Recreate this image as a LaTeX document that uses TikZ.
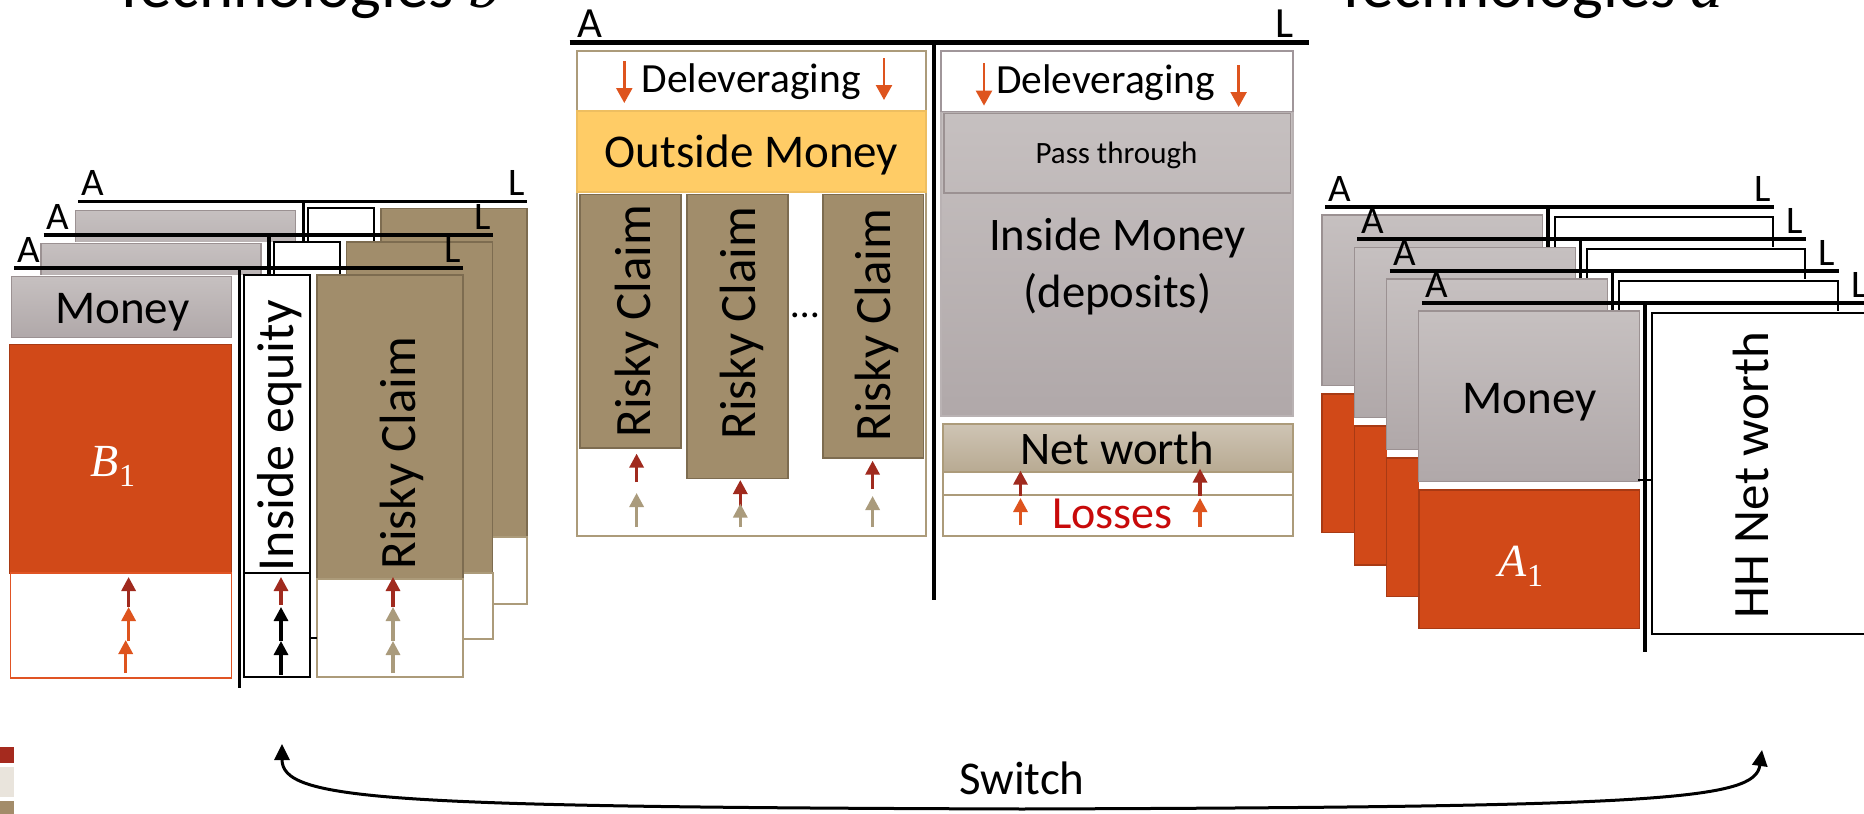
\documentclass[tikz,border=0pt]{standalone}
\usepackage{fontspec}
\setmainfont{Carlito}
\newfontfamily\serifmath{Liberation Serif}
\usetikzlibrary{arrows.meta}

\definecolor{moneytop}{RGB}{198,192,192}
\definecolor{moneybot}{RGB}{176,168,169}
\definecolor{moneyedge}{RGB}{155,145,146}
\definecolor{orangefill}{RGB}{209,73,24}
\definecolor{orangeedge}{RGB}{168,58,20}
\definecolor{orangeline}{RGB}{224,84,36}
\definecolor{brownfill}{RGB}{161,141,107}
\definecolor{brownedge}{RGB}{125,108,80}
\definecolor{tanedge}{RGB}{172,155,122}
\definecolor{arrred}{RGB}{160,42,30}
\definecolor{arrorange}{RGB}{222,84,30}
\definecolor{arrtan}{RGB}{170,155,124}
\definecolor{goldfill}{RGB}{255,204,102}
\definecolor{goldedge}{RGB}{238,190,96}
\definecolor{nettop}{RGB}{206,196,180}
\definecolor{netbot}{RGB}{184,170,146}
\definecolor{lossred}{RGB}{200,10,10}
\definecolor{swbeige}{RGB}{233,228,220}
\definecolor{swtan}{RGB}{163,140,106}
\definecolor{swred}{RGB}{165,42,30}
\definecolor{colgray}{RGB}{160,150,154}

\newcommand\fsz[1]{\fontsize{#1}{#1}\selectfont}
% italic letter with a lowered upright index, in a serif face
\newcommand\symb[2]{{\serifmath\itshape #1}\raisebox{-0.22em}{\fontsize{32}{32}\selectfont\serifmath #2}}

\tikzset{
  bar/.style={line width=3.6pt},
  bigbar/.style={line width=5pt},
  divider/.style={line width=3.6pt},
  lbl/.style={font={\fsz{39}}, inner sep=0pt},
  body/.style={inner sep=0pt},
  moneybox/.style={draw=moneyedge, line width=1.2pt, top color=moneytop, bottom color=moneybot},
  orangebox/.style={draw=orangeedge, line width=1.5pt, fill=orangefill},
  brownbox/.style={draw=brownedge, line width=1.6pt, fill=brownfill},
  plainbox/.style={draw=black, line width=2pt, fill=white},
  tanbox/.style={draw=tanedge, line width=2pt},
  uparrow/.style={line width=3.2pt, -{Triangle[width=14pt,length=14pt]}},
  downarrow/.style={draw=arrorange, line width=2.4pt, -{Triangle[width=16pt,length=15pt]}},
}

% one balance sheet of a bank (left stack); #1 name, #2 shift, #3 claim bottom, #4 sheet bottom
\newcommand\banksheet[4]{%
  \begin{scope}[shift={#2}]
    \fill[white] (9.6,275) rectangle (463,#4+1);
    \draw[bar] (14,268) -- (463,268);
    \node[lbl,anchor=base west] (#1A) at (17,262.5) {A};
    \node[lbl,anchor=base east] (#1L) at (461,262.5) {L};
    \path[moneybox] (11.4,276.8) rectangle (231.4,337.5);
    \path[orangebox] (9.6,344.6) rectangle (231.4,573);
    \draw[orangeline,line width=1.5pt] (10.7,573) rectangle (231.4,#4+1);
    \draw[plainbox] (244,275) rectangle (310,573);
    \draw[plainbox] (244,573) rectangle (310,#4);
    \path[brownbox] (317,275) rectangle (463,#3);
    \draw[tanbox] (317,#3) rectangle (463,#4);
    \draw[divider] (239.3,268) -- (239.3,#4+10.5);
  \end{scope}}

% one household balance sheet (right stack); #1 name, #2 shift
\newcommand\hhsheet[2]{%
  \begin{scope}[shift={#2}]
    \fill[white] (1322,215) rectangle (1773,538);
    \draw[bar] (1325,206.7) -- (1774,206.7);
    \node[lbl,anchor=base west] (#1A) at (1328.5,201.7) {A};
    \node[lbl,anchor=base east] (#1L) at (1771,201.7) {L};
    \path[moneybox] (1322,215) rectangle (1542.8,385.7);
    \path[orangebox] (1322,394) rectangle (1542.5,532.7);
    \draw[plainbox] (1554.7,216.7) rectangle (1773,537.7);
    \draw[divider] (1548,206.7) -- (1548,555.7);
  \end{scope}}

\begin{document}
\begin{tikzpicture}[x=1pt,y=-1pt]
\useasboundingbox (0,0) rectangle (1864,814);

% titles
\node[font={\fsz{65}}, anchor=base west, inner sep=0pt] (titleB) at (113,7) {Technologies {\serifmath\itshape b}};
\node[font={\fsz{65}}, anchor=base west, inner sep=0pt] (titleA) at (1335,7) {Technologies {\serifmath\itshape a}};

% ---------- left stack: banks of technology b ----------
\banksheet{bb}{(64,-66.6)}{604}{671}
\banksheet{bm}{(29.6,-33.3)}{606}{672}
\banksheet{bf}{(0,0)}{578.6}{677}
\draw[line width=2pt] (310,638) -- (317,638);

\node[body,font={\fsz{47}},anchor=base] (moneyB) at (122.3,323.2) {Money};
\node[body,font={\fsz{46}},text=white,anchor=base] (bone) at (113,476.8) {\symb{B}{1}};
\node[body,font={\fsz{52}},rotate=90] (ieq) at (280,435.7) {Inside equity};
\node[body,font={\fsz{51}},rotate=90] (rcb) at (402,453) {Risky Claim};

\draw[uparrow,arrorange] (125.7,673) -- (125.7,640);
\draw[uparrow,arrorange] (128.6,641) -- (128.6,607);
\draw[uparrow,arrred] (128.6,607) -- (128.6,577);
\draw[uparrow,black] (281,675) -- (281,641);
\draw[uparrow,black] (281,641) -- (281,607);
\draw[uparrow,arrred] (281,605) -- (281,577);
\draw[uparrow,arrtan] (393,673) -- (393,641);
\draw[uparrow,arrtan] (393,641) -- (393,607);
\draw[uparrow,arrred] (393,607) -- (393,577);

% ---------- centre: the intermediary ----------
\draw[bigbar] (569.7,42.5) -- (1309,42.5);
\node[body,font={\fsz{43}},anchor=base west] (cA) at (577.5,37) {A};
\node[body,font={\fsz{43}},anchor=base east] (cL) at (1294,37) {L};
\draw[line width=4pt] (934,45) -- (934,600);

% asset column
\draw[tanbox,fill=white] (577,50.7) rectangle (926,535.7);
\path[draw=goldedge,line width=1.5pt,fill=goldfill] (577,111) rectangle (926,192);
\path[brownbox] (580,194.6) rectangle (681,448);
\path[brownbox] (687,194.6) rectangle (788,478.6);
\path[brownbox] (823,194.6) rectangle (923.5,457.9);
\node[body,font={\fsz{41.5}},anchor=base] (delA) at (751,92) {Deleveraging};
\node[body,font={\fsz{47}},anchor=base] (outm) at (751.5,167) {Outside Money};
\node[body,font={\fsz{51}},rotate=90] (rc1) at (636.5,321) {Risky Claim};
\node[body,font={\fsz{51}},rotate=90] (rc2) at (741.8,323) {Risky Claim};
\node[body,font={\fsz{51}},rotate=90] (rc3) at (877,325) {Risky Claim};
\node[body,font={\fsz{40}},anchor=base] (dots) at (805.5,317) {\dots};
\draw[downarrow] (624.3,61) -- (624.3,103);
\draw[downarrow] (884,58) -- (884,100);
\draw[uparrow,arrred] (636.6,482) -- (636.6,453.6);
\draw[uparrow,arrtan] (636.6,527) -- (636.6,493);
\draw[uparrow,arrred] (740.3,507) -- (740.3,480);
\draw[uparrow,arrtan] (740.3,527) -- (740.3,503.6);
\draw[uparrow,arrred] (872.6,489) -- (872.6,460.7);
\draw[uparrow,arrtan] (872.6,527) -- (872.6,496);

% liability column
\draw[draw=colgray,line width=2pt,fill=white] (941,50.7) rectangle (1293,112);
\path[draw=moneyedge!70,line width=1.5pt,top color=moneytop,bottom color=moneybot] (941,112.5) rectangle (1293,416);
\draw[moneyedge,line width=1.2pt] (944,113.6) rectangle (1290.5,193);
\path[draw=tanedge,line width=2pt,top color=nettop,bottom color=netbot] (943,424) rectangle (1293,472);
\draw[tanbox,fill=white] (943,472) rectangle (1293,494.6);
\draw[tanbox,fill=white] (943,494.6) rectangle (1293,535.7);
\node[body,font={\fsz{41.5}},anchor=base] (delL) at (1105.7,93) {Deleveraging};
\node[body,font={\fsz{31}},anchor=base] (pass) at (1116.5,163) {Pass through};
\node[body,font={\fsz{46.7}},anchor=base] (inm) at (1117.4,250) {Inside Money};
\node[body,font={\fsz{46.7}},anchor=base] (dep) at (1117.4,307) {(deposits)};
\node[body,font={\fsz{46.7}},anchor=base] (netw) at (1117.4,464.3) {Net worth};
\node[body,font={\fsz{46}},text=lossred,anchor=base] (loss) at (1112.6,528.6) {Losses};
\draw[downarrow] (984,63) -- (984,105.6);
\draw[downarrow] (1238.6,65) -- (1238.6,107);
\draw[uparrow,arrred] (1020.5,496) -- (1020.5,470.7);
\draw[uparrow,arrorange] (1020.5,525) -- (1020.5,498);
\draw[uparrow,arrred] (1200,496) -- (1200,468.6);
\draw[uparrow,arrorange] (1200,527) -- (1200,498);

% ---------- right stack: households of technology a ----------
\hhsheet{h1}{(0,0)}
\hhsheet{h2}{(32.3,32.1)}
\hhsheet{h3}{(64.5,64)}
\hhsheet{h4}{(96.8,96)}
\draw[line width=2pt] (1638,480) -- (1650.7,480);
\node[body,font={\fsz{47}},anchor=base] (moneyA) at (1529.5,413.3) {Money};
\node[body,font={\fsz{46}},text=white,anchor=base] (aone) at (1521,576.7) {\symb{A}{1}};
\node[body,font={\fsz{51}},rotate=90] (hhnw) at (1750.5,475) {HH Net worth};

% ---------- legend swatches ----------
\fill[swred] (0,746.7) rectangle (14,762.7);
\fill[swbeige] (0,766.7) rectangle (14,796.7);
\fill[swtan] (0,800.7) rectangle (14,814);

% ---------- switch between technologies ----------
\coordinate (swL) at (282,744);
\coordinate (swR) at (1762,750);
\draw[line width=3pt,{Triangle[width=15pt,length=16pt]}-{Triangle[width=15pt,length=16pt]}]
  (swL) .. controls (282,800) and (380,807) .. (1022,809)
        .. controls (1664,807) and (1755,800) .. (swR);
\node[body,font={\fsz{47}},anchor=base] (switch) at (1022,794) {Switch};
\end{tikzpicture}
\end{document}
